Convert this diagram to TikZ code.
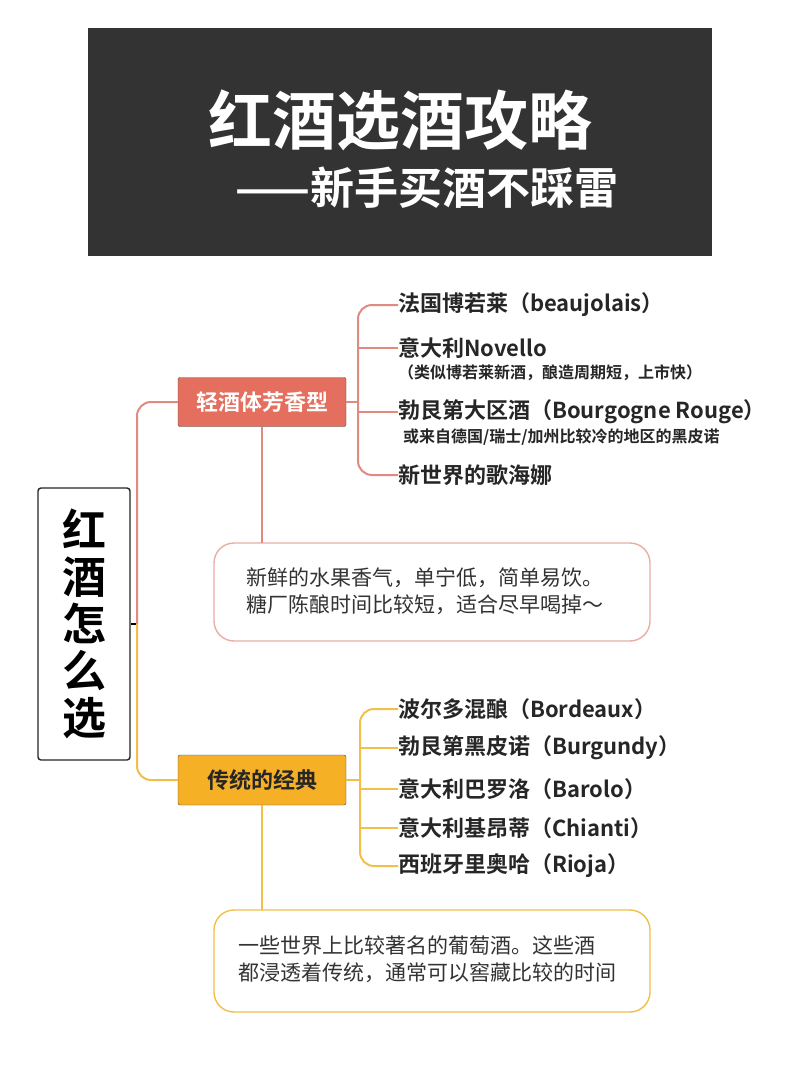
\documentclass[tikz,border=0pt]{standalone}
\usepackage{fontspec}
\setmainfont{Noto Sans CJK SC}
\newfontfamily\cjkb{Noto Sans CJK SC Bold}
\definecolor{redc}{HTML}{E46F5F}
\definecolor{redl}{HTML}{E08A80}
\definecolor{yelc}{HTML}{F5B026}
\definecolor{yell}{HTML}{F2C04A}
\definecolor{dark}{HTML}{333333}
\begin{document}
\begin{tikzpicture}[x=1pt,y=-1pt,
  item/.style={anchor=west,inner sep=0pt,font=\cjkb\fontsize{22}{24}\selectfont,text=black!85},
  sub/.style={anchor=west,inner sep=0pt,font=\cjkb\fontsize{16}{18}\selectfont,text=black!85},
  note/.style={anchor=west,inner sep=0pt,align=left,font=\fontsize{21}{27}\selectfont,text=black!80},
  rl/.style={draw=redl,line width=2pt,rounded corners=14pt},
  yl/.style={draw=yell,line width=2pt,rounded corners=14pt}]
\useasboundingbox (0,0) rectangle (800,1067);
\fill[white] (0,0) rectangle (800,1067);
\fill[dark] (88,28) rectangle (712,256);
\node[text=white,font=\cjkb\fontsize{64}{66}\selectfont] (t1) at (400,120) {红酒选酒攻略};
\node[text=white,font=\cjkb\fontsize{44}{46}\selectfont,anchor=west] (t2) at (232,188) {——新手买酒不踩雷};
% root
\node[draw=black!85,line width=1.4pt,rounded corners=3pt,minimum width=92pt,minimum height=272pt,inner sep=0pt,align=center,font=\cjkb\fontsize{44}{47}\selectfont] (root) at (84,624) {红\\酒\\怎\\么\\选};
\coordinate (j) at (137,624);
\draw[black,line width=2.5pt] (root.east) -- (j);
\node[fill=redc,draw=black!70,rounded corners=2pt,minimum width=168pt,minimum height=49pt,text=white,font=\cjkb\fontsize{22}{24}\selectfont] (r) at (262,402) {轻酒体芳香型};
\node[fill=yelc,draw=black!70,rounded corners=2pt,minimum width=168pt,minimum height=50pt,text=black!85,font=\cjkb\fontsize{22}{24}\selectfont] (y) at (262,780) {传统的经典};
\draw[rl] (j) |- (r.west);
\draw[yl] (j) |- (y.west);
% red items
\node[item] (a1) at (398,305) {法国博若莱（beaujolais）};
\node[item] (a2) at (398,348) {意大利Novello};
\node[sub] (a2s) at (398,373) {（类似博若莱新酒，酿造周期短，上市快）};
\node[item] (a3) at (398,412) {勃艮第大区酒（Bourgogne Rouge）};
\node[sub] (a3s) at (403,437) {或来自德国/瑞士/加州比较冷的地区的黑皮诺};
\node[item] (a4) at (398,475) {新世界的歌海娜};
\coordinate (rb) at (358,402);
\draw[draw=redl,line width=2pt] (r.east) -- (rb);
\draw[rl] (rb) |- (a1.west);
\draw[rl] (rb) |- (a4.west);
\draw[draw=redl,line width=2pt] (358,348) -- (a2.west);
\draw[draw=redl,line width=2pt] (358,412) -- (a3.west);
% yellow items
\node[item] (b1) at (398,709) {波尔多混酿（Bordeaux）};
\node[item] (b2) at (398,748) {勃艮第黑皮诺（Burgundy）};
\node[item] (b3) at (398,789) {意大利巴罗洛（Barolo）};
\node[item] (b4) at (398,828) {意大利基昂蒂（Chianti）};
\node[item] (b5) at (398,866) {西班牙里奥哈（Rioja）};
\coordinate (yb) at (360,780);
\draw[draw=yell,line width=2pt] (y.east) -- (yb);
\draw[yl] (yb) |- (b1.west);
\draw[yl] (yb) |- (b5.west);
\draw[draw=yell,line width=2pt] (360,748) -- (b2.west);
\draw[draw=yell,line width=2pt] (360,789) -- (b3.west);
\draw[draw=yell,line width=2pt] (360,828) -- (b4.west);
% notes
\draw[draw=redl!70,line width=1.4pt,rounded corners=20pt] (214,543) rectangle (650,641);
\coordinate (n1) at (262,543);
\node[note] (n1t) at (246,591) {新鲜的水果香气，单宁低，简单易饮。\\糖厂陈酿时间比较短，适合尽早喝掉～};
\draw[draw=redl,line width=2.5pt] (r.south) -- (n1);
\draw[draw=yell,line width=1.4pt,rounded corners=20pt] (214,910) rectangle (650,1012);
\coordinate (n2) at (262,910);
\node[note] (n2t) at (238,959) {一些世界上比较著名的葡萄酒。这些酒\\都浸透着传统，通常可以窖藏比较的时间};
\draw[draw=yell,line width=2.5pt] (y.south) -- (n2);
\end{tikzpicture}
\end{document}
